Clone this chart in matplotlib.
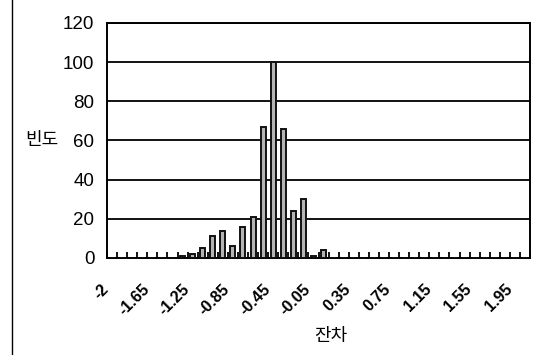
import matplotlib.pyplot as plt
from matplotlib.lines import Line2D

plt.rcParams['font.family'] = ['Noto Sans CJK KR', 'DejaVu Sans']

# residual bins (Excel histogram categories)
bins = ['-2', '-1.95', '-1.85', '-1.75', '-1.65', '-1.55', '-1.45', '-1.35',
        '-1.25', '-1.15', '-1.05', '-0.95', '-0.85', '-0.75', '-0.65', '-0.55',
        '-0.45', '-0.35', '-0.25', '-0.15', '-0.05', '0.05', '0.15', '0.25',
        '0.35', '0.45', '0.55', '0.65', '0.75', '0.85', '0.95', '1.05',
        '1.15', '1.25', '1.35', '1.45', '1.55', '1.65', '1.75', '1.85',
        '1.95', '기타']
counts = [0, 0, 0, 0, 0, 0, 0, 1, 2, 5, 11, 14, 6, 16, 21, 67,
          100, 66, 24, 30, 1, 4, 0, 0, 0, 0, 0, 0, 0, 0, 0, 0,
          0, 0, 0, 0, 0, 0, 0, 0, 0, 0]
shown = ['-2', '-1.65', '-1.25', '-0.85', '-0.45', '-0.05',
         '0.35', '0.75', '1.15', '1.55', '1.95']

fig = plt.figure(figsize=(5.41, 3.55), dpi=100)
ax = fig.add_axes([107 / 541, 97 / 355, 423 / 541, 235 / 355])

x = list(range(len(bins)))
ax.bar(x, counts, width=0.5, color='#b4b4b4', edgecolor='#111111', linewidth=1.4, zorder=3)

ax.set_xlim(-0.5, len(bins) - 0.5)
ax.set_ylim(0, 120)
ax.set_yticks(range(0, 121, 20))
ax.yaxis.grid(True, color='black', linewidth=1.3)
ax.set_axisbelow(True)
for s in ax.spines.values():
    s.set_linewidth(1.4)

# minor ticks between categories, pointing up
ax.set_xticks([i + 0.5 for i in range(-1, len(bins))], minor=True)
ax.tick_params(axis='x', which='minor', direction='in', length=4, width=1.3)
pos = [bins.index(b) for b in shown]
ax.set_xticks(pos)
ax.set_xticklabels(shown, rotation=45, ha='right', fontsize=11.5, fontweight='bold',
                   family=['Liberation Sans', 'DejaVu Sans'])
ax.tick_params(axis='x', which='major', length=0, pad=17)
ax.tick_params(axis='y', length=0, pad=9, labelsize=13.5)
for t in ax.get_yticklabels():
    t.set_family(['Liberation Sans Narrow', 'Liberation Sans'])

fig.text(42 / 541, 1 - 140 / 355, '빈도', fontsize=13, ha='center', va='center')
fig.text(331 / 541, 1 - 336 / 355, '잔차', fontsize=13, ha='center', va='center')

fig.add_artist(Line2D([12 / 541, 12 / 541], [0, 1], color='black', linewidth=1))

plt.savefig('out.png', dpi=100)
